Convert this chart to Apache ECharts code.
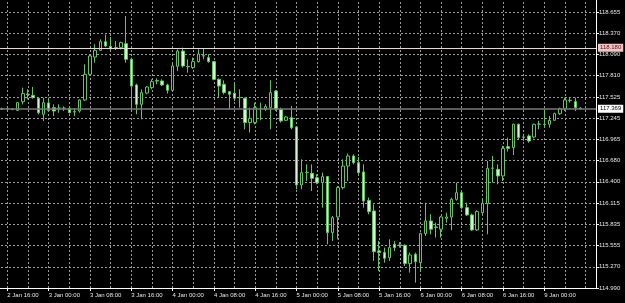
<!DOCTYPE html>
<html><head><meta charset="utf-8">
<script src="https://cdn.jsdelivr.net/npm/echarts@6/dist/echarts.min.js"></script>
<style>html,body{margin:0;padding:0;background:#000;}#c{width:625px;height:303px;}</style>
</head><body><div id="c"></div>
<script>
// Y tick labels as printed on the price scale (bottom to top)
const yTickLabels = ['114.990','115.270','115.555','115.835','116.115','116.400','116.680','116.965','117.245','117.525','117.810','118.090','118.370','118.655'];
// Horizontal level lines
const levelLine = 118.180;
const bidLine = 117.369;
// H1 candles from 2 Jan 15:00 to 9 Jan 07:00
const opens = [117.371,117.371,117.365,117.349,117.464,117.565,117.548,117.509,117.296,117.447,
117.385,117.376,117.378,117.376,117.328,117.340,117.486,117.827,118.057,118.146,
118.261,118.199,118.181,118.181,118.234,118.026,117.686,117.429,117.579,117.650,
117.739,117.739,117.686,117.615,117.934,118.137,117.929,117.916,117.996,118.071,
118.049,117.996,117.761,117.695,117.597,117.575,117.518,117.509,117.186,117.186,
117.372,117.363,117.385,117.606,117.363,117.217,117.252,117.128,116.358,116.522,
116.513,116.455,116.389,116.469,115.725,115.933,116.323,116.610,116.743,116.654,
116.531,116.154,116.013,115.482,115.460,115.393,115.570,115.561,115.557,115.314,
115.438,115.327,115.712,115.880,115.800,115.770,115.915,115.933,116.168,116.256,
116.057,115.960,115.761,115.991,116.110,116.579,116.566,116.478,116.867,116.854,
117.164,116.990,117.009,116.995,117.164,117.160,117.164,117.217,117.305,117.376,
117.482,117.465,117.380];
const closes = [117.371,117.373,117.362,117.451,117.571,117.560,117.517,117.318,117.451,117.349,
117.340,117.380,117.376,117.318,117.332,117.486,117.827,118.071,118.146,118.261,
118.203,118.164,118.178,118.248,118.026,117.672,117.429,117.584,117.659,117.730,
117.745,117.686,117.615,117.938,118.137,117.938,117.933,117.996,118.097,118.075,
117.996,117.761,117.672,117.584,117.562,117.509,117.515,117.186,117.243,117.385,
117.375,117.398,117.584,117.363,117.208,117.261,117.119,116.358,116.522,116.526,
116.446,116.389,116.469,115.725,115.924,116.323,116.610,116.743,116.654,116.522,
116.146,116.004,115.473,115.460,115.384,115.526,115.526,115.557,115.314,115.429,
115.340,115.712,115.880,115.770,115.796,115.933,115.933,116.168,116.256,116.057,
115.960,115.761,116.004,116.115,116.579,116.583,116.478,116.845,116.845,117.164,
116.987,116.995,116.942,117.164,117.168,117.164,117.217,117.305,117.372,117.487,
117.478,117.385,117.369];
const lows = [117.355,117.360,117.350,117.340,117.429,117.495,117.504,117.296,117.208,117.340,
117.274,117.318,117.340,117.310,117.274,117.318,117.473,117.818,117.982,118.137,
118.190,118.155,118.150,118.159,117.982,117.340,117.296,117.230,117.562,117.628,
117.694,117.672,117.571,117.606,117.872,117.916,117.849,117.900,117.982,118.027,
117.982,117.748,117.518,117.562,117.363,117.473,117.385,117.097,117.053,117.163,
117.217,117.341,117.097,117.341,117.186,117.208,117.097,116.300,116.300,116.411,
116.278,116.367,116.057,115.570,115.614,115.637,116.300,116.411,116.632,116.500,
116.057,115.968,115.349,115.216,115.327,115.349,115.482,115.526,115.283,115.194,
115.061,115.216,115.681,115.703,115.659,115.659,115.858,115.756,116.150,116.035,
115.947,115.747,115.747,115.969,115.703,116.389,116.367,116.411,116.801,116.756,
116.964,116.942,116.920,116.978,117.097,117.119,117.119,117.208,117.288,117.341,
117.451,117.341,117.365];
const highs = [117.385,117.385,117.380,117.460,117.650,117.628,117.659,117.517,117.517,117.517,
117.429,117.429,117.400,117.385,117.376,117.495,117.960,118.093,118.226,118.292,
118.358,118.323,118.270,118.261,118.602,118.049,117.703,117.628,117.672,117.761,
117.774,117.761,117.703,117.982,118.159,118.181,118.026,118.049,118.159,118.173,
118.093,118.004,117.774,117.748,117.606,117.703,117.628,117.518,117.385,117.451,
117.451,117.429,117.748,117.615,117.385,117.274,117.407,117.141,116.699,116.632,
116.632,116.500,116.522,116.477,115.946,116.345,116.699,116.774,116.765,116.730,
116.632,116.190,116.101,115.614,115.526,115.637,115.615,115.600,115.570,115.460,
115.460,115.725,116.124,115.969,115.858,115.947,115.991,116.190,116.389,116.278,
116.124,115.978,116.022,116.168,116.677,116.743,116.632,116.876,116.987,117.172,
117.172,117.040,117.031,117.172,117.208,117.363,117.274,117.319,117.385,117.518,
117.527,117.518,117.385];

// category names: hourly bars, weekend gap after 6 Jan 23:00
function hourName(i) {
  if (i <= 104) {
    const t = 15 + i; // hours after 2 Jan 00:00
    const day = 2 + Math.floor(t / 24), h = t % 24;
    return day + ' Jan ' + (h < 10 ? '0' : '') + h + ':00';
  }
  const h = i - 105;
  return '9 Jan ' + (h < 10 ? '0' : '') + h + ':00';
}
const categories = [''];
for (let i = 0; i < opens.length; i++) categories.push(hourName(i));
categories.push('', '', '');

const candles = opens.map((o, i) => [i + 1, o, closes[i], lows[i], highs[i]]);

const Y_MIN = 114.990;
const Y_STEP = (118.655 - 114.990) / 13;

const chart = echarts.init(document.getElementById('c'), null, {renderer: 'canvas'});
const gridColor = '#9a9a9a';
chart.setOption({
  animation: false,
  backgroundColor: '#000',
  grid: {left: -3, right: 29, top: -10, bottom: 15, containLabel: false, outerBoundsMode: 'none'},
  xAxis: {
    type: 'category', data: categories, boundaryGap: false,
    axisLine: {lineStyle: {color: '#ffffff', width: 1}},
    axisTick: {show: true, length: 3, lineStyle: {color: '#ffffff'},
      interval: (i) => (i - 2) % 8 === 0 && i >= 2 && i <= 106},
    axisLabel: {color: '#e6e6e6', fontSize: 6, fontFamily: 'Liberation Sans, Arial, sans-serif',
      align: 'left', margin: 4,
      interval: (i) => (i - 2) % 8 === 0 && i >= 2 && i <= 106},
    splitLine: {show: true, interval: (i) => (i - 2) % 4 === 0 && i >= 2,
      lineStyle: {color: gridColor, type: [2, 2], width: 1}}
  },
  yAxis: {
    type: 'value', position: 'right', scale: true,
    min: Y_MIN, max: Y_MIN + 298 / 75.31, interval: Y_STEP,
    axisLine: {show: true, lineStyle: {color: '#ffffff', width: 1}},
    axisTick: {show: true, length: 3, lineStyle: {color: '#ffffff'}},
    axisLabel: {color: '#e6e6e6', fontSize: 6, fontFamily: 'Liberation Sans, Arial, sans-serif',
      margin: 3, showMaxLabel: false,
      formatter: (v) => { const k = Math.round((v - Y_MIN) / Y_STEP); return yTickLabels[k] || ''; }},
    splitLine: {show: true, lineStyle: {color: gridColor, type: [2, 2], width: 1}}
  },
  series: [{
    type: 'candlestick',
    data: candles,
    encode: {x: 0, y: [1, 2, 3, 4]},
    barWidth: 3,
    itemStyle: {color: '#000000', color0: '#d4f4d4', borderColor: '#5ec85e', borderColor0: '#5ec85e', borderWidth: 1},
    markLine: {
      silent: true, symbol: 'none', animation: false,
      data: [
        {yAxis: levelLine, lineStyle: {color: '#e8d8d8', type: 'solid', width: 1},
          label: {show: true, position: 'end', distance: 2, formatter: levelLine.toFixed(3), fontSize: 6,
            fontFamily: 'Liberation Sans, Arial, sans-serif',
            color: '#5a1010', backgroundColor: '#f2c6c6', padding: [1, 2, 1, 2]}},
        {yAxis: bidLine, lineStyle: {color: '#7a7a7a', type: 'solid', width: 1.5},
          label: {show: true, position: 'end', distance: 2, formatter: bidLine.toFixed(3), fontSize: 6,
            fontFamily: 'Liberation Sans, Arial, sans-serif',
            color: '#000000', backgroundColor: '#ffffff', padding: [1, 2, 1, 2]}}
      ]
    }
  }]
});
</script></body></html>
